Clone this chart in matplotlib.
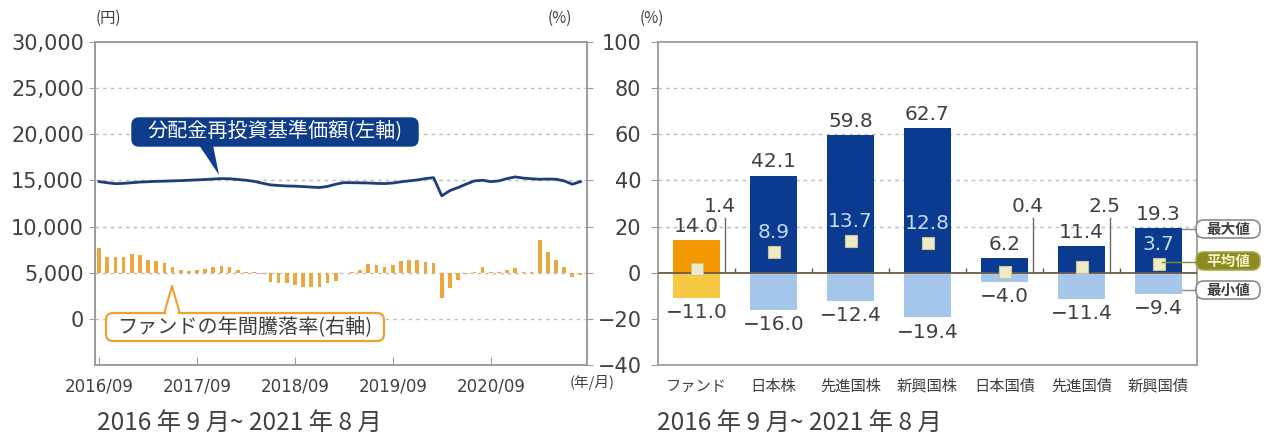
import matplotlib
matplotlib.use("Agg")
import matplotlib.pyplot as plt
from matplotlib.patches import FancyBboxPatch, Polygon

plt.rcParams['font.family'] = ['Noto Sans CJK JP', 'DejaVu Sans']

W, H = 1268, 437

# ---------------- data ----------------
# Left chart: monthly, 2016/09 .. 2021/08 (60 months)
nav = [14870, 14750, 14650, 14680, 14750, 14820, 14860, 14900, 14920, 14950,
       14980, 15020, 15060, 15100, 15150, 15200, 15180, 15100, 15020, 14900,
       14700, 14520, 14450, 14400, 14380, 14330, 14280, 14230, 14350, 14590,
       14760, 14750, 14740, 14720, 14680, 14660, 14720, 14850, 14950, 15050,
       15200, 15300, 13330, 13900, 14230, 14600, 14950, 15020, 14870, 14950,
       15200, 15380, 15250, 15180, 15130, 15150, 15130, 14950, 14590, 14870]
ret = [10.5, 6.9, 6.6, 6.9, 8.3, 7.6, 5.7, 5.2, 4.0, 2.6,
       1.1, 0.9, 1.1, 1.4, 2.6, 2.9, 2.3, 1.1, 0.4, 0.1,
       -0.6, -3.9, -4.6, -4.6, -5.3, -6.0, -6.3, -6.0, -4.6, -3.4,
       -0.2, 0.2, 1.1, 3.6, 3.3, 2.6, 3.3, 5.2, 5.7, 5.7,
       4.7, 4.0, -11.0, -6.8, -3.2, -0.5, 0.5, 2.3, 0.4, 0.3,
       1.1, 1.9, 0.1, 0.2, 14.0, 9.1, 5.7, 2.3, -1.7, -1.0]
month_ticks = [0, 12, 24, 36, 48]
month_tick_labels = ["2016/09", "2017/09", "2018/09", "2019/09", "2020/09"]
yen_ticks = [0, 5000, 10000, 15000, 20000, 25000, 30000]

# Right chart
categories = ["ファンド", "日本株", "先進国株", "新興国株", "日本国債", "先進国債", "新興国債"]
max_vals = [14.0, 42.1, 59.8, 62.7, 6.2, 11.4, 19.3]
avg_vals = [1.4, 8.9, 13.7, 12.8, 0.4, 2.5, 3.7]
min_vals = [-11.0, -16.0, -12.4, -19.4, -4.0, -11.4, -9.4]
pct_ticks = [-40, -20, 0, 20, 40, 60, 80, 100]

# ---------------- style ----------------
TXT = '#404040'
SPINE = '#9c9c9c'
GRID = '#bdbdbd'
NAVY = '#0b3b91'
LBLUE = '#a4c6ea'
ORANGE = '#f39800'
YELLOW = '#f7c844'
BARC = '#eca83e'
LINEC = '#1f3c7c'
NUM = ['DejaVu Sans']

fig = plt.figure(figsize=(W / 100, H / 100), dpi=100)


def rect(x0, x1, ytop, ybot):
    return [x0 / W, 1 - ybot / H, (x1 - x0) / W, (ybot - ytop) / H]


# ---------------- left chart ----------------
ax1 = fig.add_axes(rect(95, 587, 42, 365))
ax1.set_xlim(-0.5, 59.8)
ax1.set_ylim(-5000, 30000)
for v in yen_ticks[:-1]:
    ax1.axhline(v, color=GRID, lw=1.0, ls=(0, (2.5, 3)), zorder=0)
ax1.plot(range(len(nav)), nav, color=LINEC, lw=2.0, zorder=3, solid_joinstyle='round')
ax1.set_yticks(yen_ticks)
ax1.set_yticklabels([f"{v:,}" for v in yen_ticks], family=NUM, fontsize=15, color=TXT)
ax1.set_xticks(month_ticks)
ax1.set_xticklabels(month_tick_labels, family=NUM, fontsize=12, color=TXT)
ax1.tick_params(axis='y', direction='out', length=4, color=SPINE, pad=4)
ax1.tick_params(axis='x', direction='in', length=6, color=SPINE, pad=9)
for s in ax1.spines.values():
    s.set_color(SPINE)
    s.set_linewidth(1.3)

ax1b = ax1.twinx()
ax1b.set_ylim(-40, 100)
ax1b.bar(range(len(ret)), ret, width=0.45, color=BARC, zorder=2)
ax1b.set_yticks(pct_ticks)
ax1b.set_yticklabels([])
ax1b.tick_params(axis='y', direction='out', length=4, color=SPINE)
for s in ax1b.spines.values():
    s.set_color(SPINE)
    s.set_linewidth(1.3)

# ---------------- right chart ----------------
ax2 = fig.add_axes(rect(658, 1197, 42, 365))
ax2.set_xlim(-0.5, 6.5)
ax2.set_ylim(-40, 100)
for v in [20, 40, 60, 80]:
    ax2.axhline(v, color=GRID, lw=1.0, ls=(0, (2.5, 3)), zorder=0)
x = list(range(len(categories)))
bw = 0.62
pos_cols = [ORANGE] + [NAVY] * 6
neg_cols = [YELLOW] + [LBLUE] * 6
ax2.bar(x, max_vals, width=bw, color=pos_cols, zorder=2)
ax2.bar(x, min_vals, width=bw, color=neg_cols, zorder=2)
ax2.axhline(0, color='#6a5a46', lw=1.3, zorder=3)
ax2.vlines([i + 0.5 for i in x[:-1]], 0, 2.2, color='#6a5a46', lw=1.0, zorder=3)
ax2.scatter(x, avg_vals, marker='s', s=85, color='#eeebc6', edgecolors='#cbc596',
            linewidths=0.8, zorder=5)

outside = {0, 4, 5}
for i in x:
    ax2.text(i, max_vals[i] + 1.8, f"{max_vals[i]:.1f}", ha='center', va='bottom',
             family=NUM, fontsize=14.5, color=TXT, zorder=6)
    ax2.text(i, min_vals[i] - 2.2, f"\u2212{abs(min_vals[i]):.1f}", ha='center', va='top',
             family=NUM, fontsize=14.5, color=TXT, zorder=6)
    if i in outside:
        ax2.text(i + 0.3, 24.5, f"{avg_vals[i]:.1f}", ha='center', va='bottom',
                 family=NUM, fontsize=14.5, color=TXT, zorder=6)
        ax2.plot([i + 0.37, i + 0.37], [0, 23.5], color='#6a6a6a', lw=1.0, zorder=4)
    else:
        ax2.text(i, avg_vals[i] + 4.2, f"{avg_vals[i]:.1f}", ha='center', va='bottom',
                 family=NUM, fontsize=14.5, color='#c3daf4', zorder=6)

ax2.set_yticks(pct_ticks)
ax2.set_yticklabels([f"\u2212{abs(v)}" if v < 0 else str(v) for v in pct_ticks],
                    family=NUM, fontsize=15, color=TXT)
ax2.set_xticks(x)
ax2.set_xticklabels(categories, fontsize=11, color=TXT)
ax2.tick_params(axis='y', direction='out', length=5, color=SPINE, pad=7)
ax2.tick_params(axis='x', length=0, pad=9)
for s in ax2.spines.values():
    s.set_color(SPINE)
    s.set_linewidth(1.3)

# ---------------- overlay (pixel coords) ----------------
ov = fig.add_axes([0, 0, 1, 1], zorder=10)
ov.set_xlim(0, W)
ov.set_ylim(H, 0)
ov.axis('off')

# axis unit labels
ov.text(108, 18, "(円)", fontsize=11, color=TXT, ha='center', va='center')
ov.text(560, 18, "(%)", fontsize=11, color=TXT, ha='center', va='center')
ov.text(652, 18, "(%)", fontsize=11, color=TXT, ha='center', va='center')
ov.text(592, 383, "(年/月)", fontsize=10.5, color=TXT, ha='center', va='center')

# captions
ov.text(97, 424, "2016 年 9 月~ 2021 年 8 月", fontsize=17.5, color=TXT, ha='left', va='center')
ov.text(657, 424, "2016 年 9 月~ 2021 年 8 月", fontsize=17.5, color=TXT, ha='left', va='center')

# callout: NAV (blue)
ov.add_patch(FancyBboxPatch((132, 118), 286, 28, boxstyle='round,pad=0,rounding_size=7',
                            fc='#0d3c8a', ec='#0d3c8a', lw=1))
ov.add_patch(Polygon([(199, 145), (213, 145), (219, 175)], closed=True, fc='#0d3c8a', ec='none'))
ov.text(275, 132, "分配金再投資基準価額(左軸)", fontsize=14.5, color='white', ha='center', va='center')

# callout: fund return (orange outline)
ov.add_patch(Polygon([(164, 314), (180, 314), (172, 286)], closed=True, fc='white',
                     ec='#f0a030', lw=1.5, joinstyle='round'))
ov.add_patch(FancyBboxPatch((106, 313), 278, 28, boxstyle='round,pad=0,rounding_size=7',
                            fc='white', ec='#f0a030', lw=1.6))
ov.add_patch(Polygon([(165.5, 316), (178.5, 316), (172, 292)], closed=True, fc='white', ec='none'))
ov.text(245, 327, "ファンドの年間騰落率(右軸)", fontsize=14.5, color=TXT, ha='center', va='center')

# legend boxes on the right
leg = [("最大値", 229, 'white', '#8a8a8a', TXT),
       ("平均値", 261, '#8d8a22', '#a9a64a', '#f6f3c8'),
       ("最小値", 290, 'white', '#8a8a8a', TXT)]
for label, yc, fc, ec, tc in leg:
    ov.add_patch(FancyBboxPatch((1196, yc - 9), 64, 18, boxstyle='round,pad=0,rounding_size=8',
                                fc=fc, ec=ec, lw=1.2))
    ov.text(1228, yc, label, fontsize=10.5, color=tc, ha='center', va='center', fontweight='bold')
ov.plot([1182, 1196], [229, 229], color='#8a8a8a', lw=1)
ov.plot([1162, 1196], [262, 262], color='#8d8a22', lw=1)
ov.plot([1182, 1196], [290, 290], color='#8a8a8a', lw=1)

fig.savefig("out.png", dpi=100)
